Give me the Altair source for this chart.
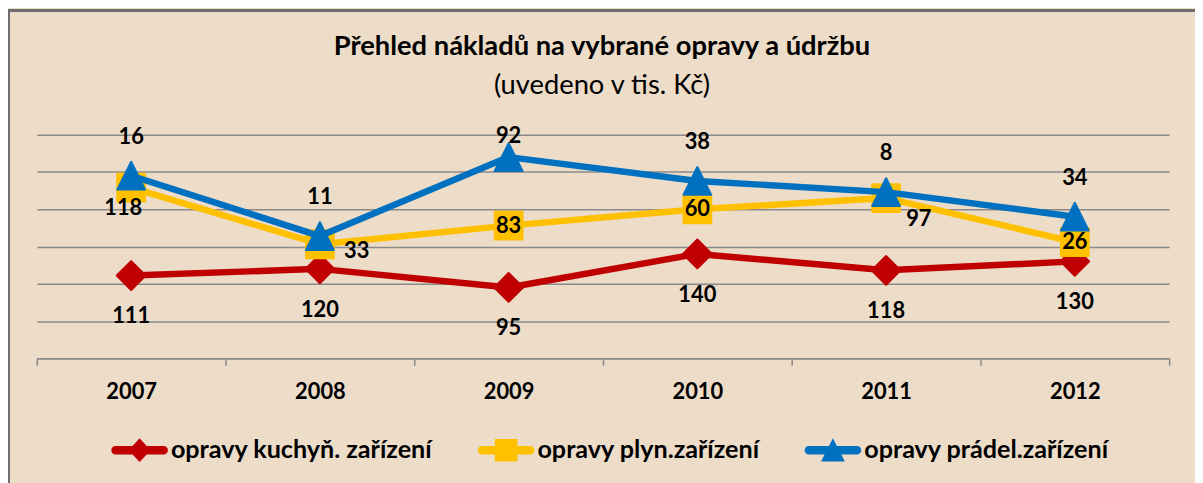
import json
import altair as alt
import pandas as pd

# ---- data -------------------------------------------------------------
title_text = "Přehled nákladů na vybrané opravy a údržbu"
subtitle_text = "(uvedeno v tis. Kč)"
years = ["2007", "2008", "2009", "2010", "2011", "2012"]
series_names = ["opravy kuchyň. zařízení", "opravy plyn.zařízení", "opravy prádel.zařízení"]
kuchyn = [111, 120, 95, 140, 118, 130]
plyn = [118, 33, 83, 60, 97, 26]
pradel = [16, 11, 92, 38, 8, 34]
colors = ["#C00000", "#FFC000", "#0070C0"]
grid_values = [0, 50, 100, 150, 200, 250, 300]

rows = []
for order, (name, vals) in enumerate(zip(series_names, [kuchyn, plyn, pradel])):
    for yr, v in zip(years, vals):
        rows.append({"year": yr, "series": name, "value": v, "order": order})
df = pd.DataFrame(rows)

# ---- styling ------------------------------------------------------------
FONT = "Lato"
BG = "#ECDCC8"
GRID = "#8A8A8A"

marker_shapes = ["diamond", "square", "M0,-1L1,1L-1,1Z"]
marker_sizes = [841, 784, 784]

bar_path = "M-0.85,-0.15L0.85,-0.15A0.15,0.15 0 0 1 0.85,0.15L-0.85,0.15A0.15,0.15 0 0 1 -0.85,-0.15Z"
legend_paths = [
    bar_path + " M0,-0.42L0.39,0L0,0.42L-0.39,0Z",
    bar_path + " M-0.4,-0.4L0.4,-0.4L0.4,0.4L-0.4,0.4Z",
    bar_path + " M0,-0.42L0.42,0.4L-0.42,0.4Z",
]

# label placement (dx, dy) per series, with per-year exceptions
label_default = [(0, 41), (0, 0), (0, -39)]
label_except = [
    {},
    {"2007": (-8, 21), "2008": (37, 7), "2011": (33, 21)},
    {"2009": (0, -21)},
]

x_enc = alt.X(
    "year:N",
    sort=years,
    scale=alt.Scale(type="band", domain=years, paddingInner=0, paddingOuter=0),
    axis=alt.Axis(
        title=None, labelAngle=0, tickBand="extent", grid=False,
        labelFont=FONT, labelFontSize=22, labelFontWeight="bold", labelColor="black",
        domainColor=GRID, domainWidth=1.5, tickColor=GRID, tickWidth=1.5, tickSize=7,
        labelPadding=17,
    ),
)
y_enc = alt.Y(
    "y1:Q",
    scale=alt.Scale(domain=[0, 300], nice=False, zero=True),
    axis=alt.Axis(
        title=None, values=grid_values, labels=False, ticks=False, domain=False,
        grid=True, gridColor=GRID, gridWidth=1.5,
    ),
)

base = alt.Chart(df).transform_stack(
    stack="value", groupby=["year"], sort=[alt.SortField("order", order="ascending")],
    as_=["y0", "y1"],
)

layers = []
for i, name in enumerate(series_names):
    sel = base.transform_filter(f"datum.series == {json.dumps(name)}")
    layers.append(
        sel.mark_line(color=colors[i], strokeWidth=6.5, strokeCap="round", strokeJoin="round")
        .encode(x=x_enc, y=y_enc)
    )
    layers.append(
        sel.mark_point(
            filled=True, shape=marker_shapes[i], size=marker_sizes[i], color=colors[i],
            stroke=colors[i], strokeWidth=2, strokeJoin="round", opacity=1,
        ).encode(x=x_enc, y=y_enc)
    )

for i, name in enumerate(series_names):
    groups = {}
    for yr in years:
        groups.setdefault(label_except[i].get(yr, label_default[i]), []).append(yr)
    for (dx, dy), yrs in groups.items():
        layers.append(
            base.transform_filter(
                f"datum.series == {json.dumps(name)} && indexof({json.dumps(yrs)}, datum.year) >= 0"
            )
            .mark_text(font=FONT, fontSize=22, fontWeight="bold", color="black",
                       align="center", baseline="middle", dx=dx, dy=dy)
            .encode(x=x_enc, y=y_enc, text=alt.Text("value:Q"))
        )

legend_kw = dict(
    title=None, orient="none", legendX=75, legendY=289, direction="horizontal",
    labelFont=FONT, labelFontSize=25.3, labelFontWeight="bold", labelColor="black",
    labelLimit=400, labelOffset=3, symbolSize=3249, symbolStrokeWidth=0,
    symbolOpacity=1, columnPadding=45, padding=0,
)
legend_layer = (
    alt.Chart(df).transform_filter("false")
    .mark_point(filled=True, opacity=1)
    .encode(
        color=alt.Color("series:N", scale=alt.Scale(domain=series_names, range=colors),
                        legend=alt.Legend(**legend_kw)),
        shape=alt.Shape("series:N", scale=alt.Scale(domain=series_names, range=legend_paths),
                        legend=alt.Legend(**legend_kw)),
    )
)
layers.append(legend_layer)

# title and subtitle as text above the plot
titles = pd.DataFrame({"t": [title_text]})
subtitles = pd.DataFrame({"t": [subtitle_text]})
layers.append(
    alt.Chart(titles).mark_text(font=FONT, fontSize=27.5, fontWeight="bold", color="black",
                                align="center", baseline="middle")
    .encode(text="t:N", x=alt.value(569), y=alt.value(-88))
)
layers.append(
    alt.Chart(subtitles).mark_text(font=FONT, fontSize=27.5, color="black",
                                   align="center", baseline="middle")
    .encode(text="t:N", x=alt.value(569), y=alt.value(-49))
)

# outer frame (top and left edges visible in the reference)
frame_left = alt.Chart(df).mark_rule(color="#6E6E6E", strokeWidth=2).encode(
    x=alt.value(-28.3), y=alt.value(-126), y2=alt.value(360)
)
frame_top = alt.Chart(df).mark_rule(color="#6E6E6E", strokeWidth=2).encode(
    x=alt.value(-29), x2=alt.value(1170), y=alt.value(-125.3)
)
layers += [frame_left, frame_top]

chart = (
    alt.layer(*layers)
    .properties(
        width=1140, height=225,
        padding={"left": 29, "top": 126, "right": 26, "bottom": 124},
        autosize=alt.AutoSizeParams(type="none"),
    )
    .configure(background=BG)
    .configure_view(fill="white", stroke=None)
)

chart.save("out.html", embed_options={"renderer": "svg", "actions": False})
